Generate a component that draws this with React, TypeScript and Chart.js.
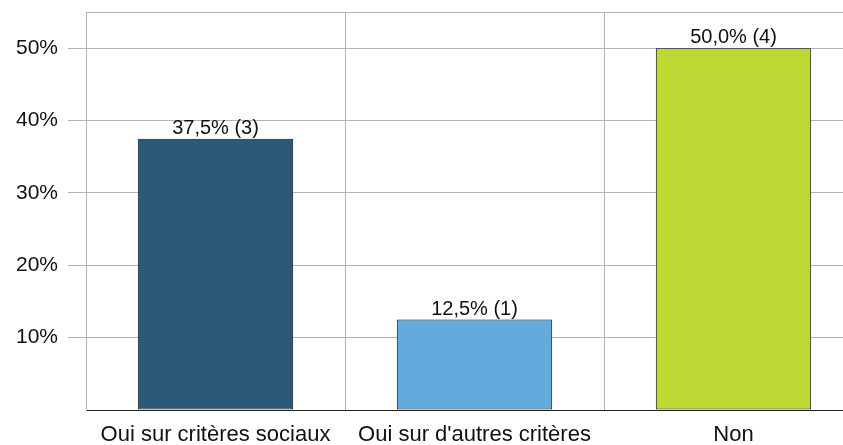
import React, { useEffect, useRef } from "react";
import { Chart, registerables } from "chart.js";

Chart.register(...registerables);

const categories = ["Oui sur critères sociaux", "Oui sur d'autres critères", "Non"];
const percents = [37.5, 12.5, 50.0];
const counts = [3, 1, 4];
const barColors = ["#2a5a78", "#64abdd", "#bdd733"];
const yTicks = [10, 20, 30, 40, 50];

const FONT = "'Liberation Sans', Arial, sans-serif";

const valueLabels = {
  id: "valueLabels",
  afterDatasetsDraw(chart: any) {
    const ctx = chart.ctx;
    const meta = chart.getDatasetMeta(0);
    ctx.save();
    ctx.font = `20px ${FONT}`;
    ctx.fillStyle = "#111";
    ctx.textAlign = "center";
    ctx.textBaseline = "alphabetic";
    meta.data.forEach((bar: any, i: number) => {
      const txt = percents[i].toFixed(1).replace(".", ",") + "% (" + counts[i] + ")";
      ctx.fillText(txt, bar.x, bar.y - 5);
    });
    ctx.restore();
  },
};

export default function App() {
  const ref = useRef<HTMLCanvasElement>(null);
  useEffect(() => {
    const chart = new Chart(ref.current!, {
      type: "bar",
      data: {
        labels: categories,
        datasets: [
          {
            data: percents,
            backgroundColor: barColors,
            borderColor: "#111",
            borderWidth: 1,
            borderSkipped: false,
            barPercentage: 0.6,
            categoryPercentage: 1,
          },
        ],
      },
      plugins: [valueLabels],
      options: {
        animation: false,
        responsive: false,
        maintainAspectRatio: false,
        layout: { padding: { top: 12, right: 17, bottom: 0, left: 0 } },
        plugins: { legend: { display: false }, tooltip: { enabled: false } },
        scales: {
          x: {
            offset: true,
            afterFit(scale: any) {
              scale.height = 35;
            },
            grid: { offset: true, color: "#b3b3b3", drawTicks: false },
            border: { color: "#222", width: 1 },
            ticks: { color: "#111", font: { family: FONT, size: 22 }, padding: 12, maxRotation: 0 },
          },
          y: {
            min: 0,
            max: 55,
            afterFit(scale: any) {
              scale.width = 86;
            },
            afterBuildTicks(scale: any) {
              scale.ticks = [0, ...yTicks, 55].map((v) => ({ value: v }));
            },
            grid: {
              color: (c: any) => (c.tick && c.tick.value === 0 ? "#222" : "#b3b3b3"),
              tickColor: (c: any) =>
                c.tick && (c.tick.value === 0 || c.tick.value === 55) ? "rgba(0,0,0,0)" : "#b3b3b3",
              tickLength: 18,
            },
            border: { color: "#b3b3b3" },
            ticks: {
              color: "#111",
              font: (c: any) => ({
                family: FONT,
                size: c.tick && yTicks.includes(c.tick.value) ? 21 : 1,
              }),
              padding: 10,
              callback: (v: any) => (yTicks.includes(Number(v)) ? v + "%" : ""),
            },
          },
        },
      },
    });
    return () => chart.destroy();
  }, []);
  return (
    <div style={{ position: "fixed", left: 0, top: 0, width: 880, height: 445, background: "#fff" }}>
      <canvas ref={ref} width={880} height={445} style={{ width: 880, height: 445 }} />
    </div>
  );
}
